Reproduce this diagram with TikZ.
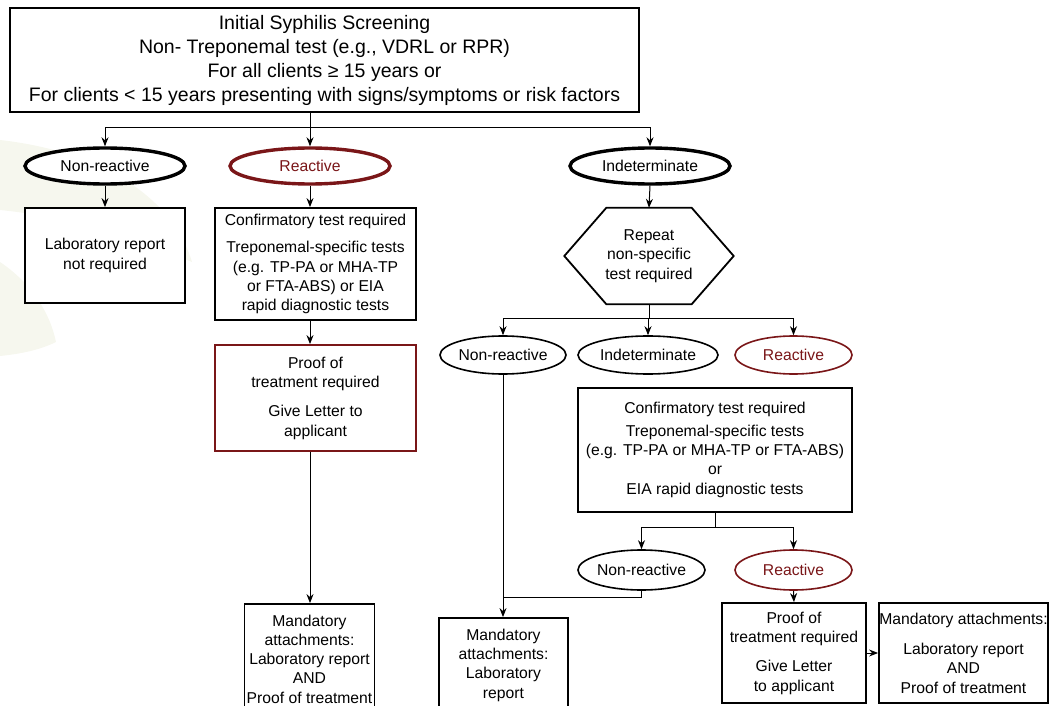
\documentclass[tikz,border=0pt]{standalone}
\usepackage{fontspec}
\setmainfont{Liberation Sans}
\usetikzlibrary{arrows.meta,shapes.geometric}
\definecolor{darkred}{RGB}{122,22,24}
\definecolor{wmark}{RGB}{246,247,238}
\begin{document}
\begin{tikzpicture}[x=1pt,y=-1pt,
    small/.style={font=\fontsize{15.7}{19.3}\selectfont},
    box/.style={draw,line width=1.8pt,fill=white,align=center,inner sep=0pt,small},
    redbox/.style={box,draw=darkred},
    oval/.style={ellipse,draw,line width=1.6pt,fill=white,inner sep=0pt,small},
    bigoval/.style={oval,line width=3.4pt,minimum width=160pt,minimum height=36pt},
    redoval/.style={text=darkred,draw=darkred},
    arr/.style={-{Stealth[length=9pt,width=7pt]},line width=1pt},
    con/.style={line width=1pt}]
    \useasboundingbox (0,0) rectangle (1058,706);
    \clip (0,0) rectangle (1058,706);
    % faint background mark
    \fill[wmark] (0,140) .. controls (90,150) and (170,190) .. (192,262) .. controls (120,232) and (60,216) .. (0,210) -- cycle;
    \fill[wmark] (0,262) .. controls (30,282) and (50,312) .. (56,342) .. controls (40,350) and (20,354) .. (0,356) -- cycle;

    % first test
    \node[box,minimum width=629pt,minimum height=104pt,font=\fontsize{19.5}{24}\selectfont] (screen) at (324.5,60)
        {Initial Syphilis Screening\\Non- Treponemal test (e.g., VDRL or RPR)\\For all clients ≥ 15 years or\\For clients < 15 years presenting with signs/symptoms or risk factors};

    \node[bigoval] (nonreact) at (105,166) {Non-reactive};
    \node[bigoval,redoval] (react) at (310,166) {Reactive};
    \node[bigoval] (indet) at (650,166) {Indeterminate};

    \node[box,minimum width=160pt,minimum height=95pt] (labnot) at (105,255.5) {Laboratory report\\not required};
    \node[box,minimum width=201pt,minimum height=112pt] (confirm) at (315.5,264)
        {Confirmatory test required\\[8pt]Treponemal-specific tests\\(e.g. TP-PA or MHA-TP\\or FTA-ABS) or EIA\\rapid diagnostic tests};
    \node[redbox,minimum width=201pt,minimum height=106pt] (proof) at (315.5,398)
        {Proof of\\treatment required\\[10pt]Give Letter to\\applicant};
    \node[box,minimum width=130pt,minimum height=110pt] (mandboth) at (309.5,659)
        {Mandatory\\attachments:\\Laboratory report\\AND\\Proof of treatment};

    % repeat test
    \node[minimum width=169pt,minimum height=96pt,align=center,inner sep=0pt,small] (repeat) at (649,256)
        {Repeat\\non-specific\\test required};
    \draw[line width=1.8pt] (repeat.west) -- ([xshift=42pt]repeat.north west) -- ([xshift=-42pt]repeat.north east)
        -- (repeat.east) -- ([xshift=-42pt]repeat.south east) -- ([xshift=42pt]repeat.south west) -- cycle;

    \node[oval,minimum width=126pt,minimum height=38pt] (nonreactB) at (503,355) {Non-reactive};
    \node[oval,minimum width=140pt,minimum height=38pt] (indetB) at (648,355) {Indeterminate};
    \node[oval,redoval,minimum width=117pt,minimum height=38pt] (reactB) at (793.5,355) {Reactive};

    \node[box,minimum width=274pt,minimum height=124pt] (confirmB) at (715,450)
        {Confirmatory test required\\[3pt]Treponemal-specific tests\\(e.g. TP-PA or MHA-TP or FTA-ABS)\\or\\EIA rapid diagnostic tests};

    \node[oval,minimum width=127pt,minimum height=40pt] (nonreactC) at (641.5,570) {Non-reactive};
    \node[oval,redoval,minimum width=117pt,minimum height=40pt] (reactC) at (793.5,570) {Reactive};

    \node[box,minimum width=129pt,minimum height=94pt] (mandlab) at (503.5,665)
        {Mandatory\\attachments:\\Laboratory\\report};
    \node[box,minimum width=144pt,minimum height=100pt] (proofB) at (794,653)
        {Proof of\\treatment required\\[10pt]Give Letter\\to applicant};
    \node[box,minimum width=169pt,minimum height=100pt] (mandB) at (963.5,653)
        {Mandatory attachments:\\[11pt]Laboratory report\\AND\\Proof of treatment};

    % connectors
    \coordinate (split) at (310,128);
    \draw[con] (screen.south -| split) -- (split);
    \draw[arr] (split) -| (nonreact.north);
    \draw[arr] (split) -- (react.north);
    \draw[arr] (split) -| (indet.north);
    \draw[arr] (nonreact) -- (labnot);
    \draw[arr] (react.south) -- (react.south |- confirm.north);
    \draw[arr] (confirm.south -| react) -- (proof.north -| react);
    \draw[arr] (proof.south -| react) -- (mandboth.north -| react);
    \draw[arr] (indet.south) -- (repeat.north);

    \coordinate (splitB) at (649,318);
    \draw[con] (repeat.south) -- (splitB);
    \draw[arr] (splitB) -| (nonreactB.north);
    \draw[arr] (splitB) -| (indetB.north);
    \draw[arr] (splitB) -| (reactB.north);
    \draw[arr] (nonreactB.south) -- (mandlab.north -| nonreactB);

    \coordinate (splitC) at (715,527);
    \draw[con] (confirmB.south) -- (splitC);
    \draw[arr] (splitC) -| (nonreactC.north);
    \draw[arr] (splitC) -| (reactC.north);
    \coordinate (joinC) at (503,597);
    \draw[con] (nonreactC.south) |- (joinC);
    \draw[arr] (reactC.south) -- (proofB.north);
    \draw[arr] (proofB.east) -- (mandB.west);
\end{tikzpicture}
\end{document}
